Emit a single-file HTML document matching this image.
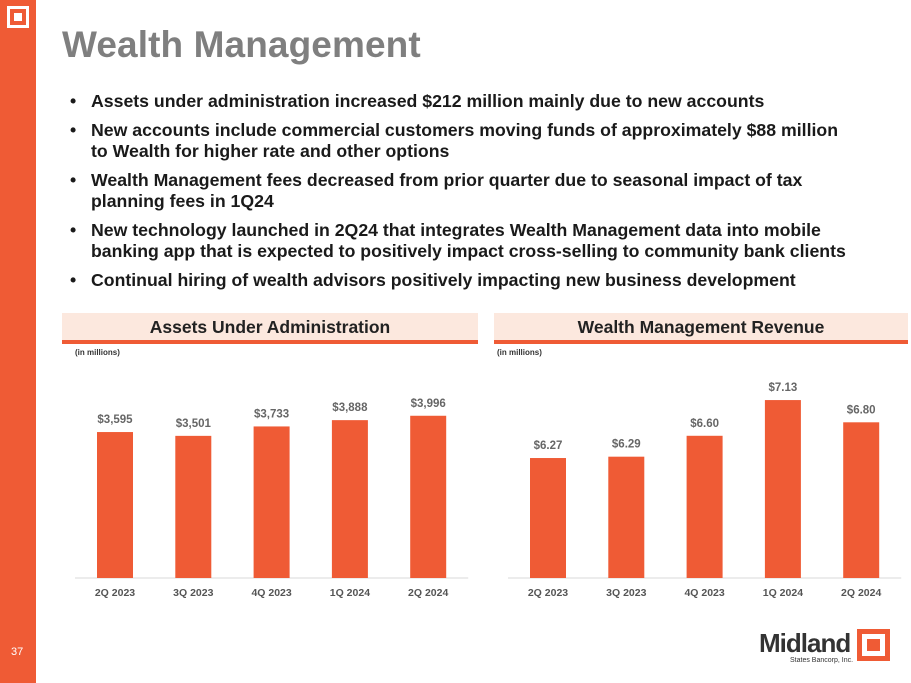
<!DOCTYPE html>
<html><head><meta charset="utf-8">
<style>
*{margin:0;padding:0;box-sizing:border-box}
body{width:911px;height:683px;background:#fff;position:relative;overflow:hidden;font-family:"Liberation Sans",sans-serif}
.side{position:absolute;left:0;top:0;width:36px;height:683px;background:#ef5b35}
.sq{position:absolute;left:7px;top:6px;width:22px;height:22px;border:3px solid #fff}
.sq i{position:absolute;left:4px;top:4px;width:8px;height:8px;background:#fff}
h1{position:absolute;left:62px;top:24px;font-size:37px;font-weight:bold;color:#7f7f7f;letter-spacing:0.1px}
ul{position:absolute;left:70px;top:91px;list-style:none;width:840px}
li{position:relative;padding-left:21px;font-size:17.7px;font-weight:bold;color:#1a1a1a;line-height:21px;margin-bottom:8px;white-space:nowrap}
li:before{content:"•";position:absolute;left:0;top:0}
.hdr{position:absolute;top:313px;height:31px;background:#fce8de;border-bottom:4px solid #ef5b35;text-align:center;font-size:17.5px;font-weight:bold;color:#222;line-height:28px}
.unit{position:absolute;top:348px;font-size:8px;font-weight:bold;color:#333}
.pg{position:absolute;left:11px;top:646px;color:#fff;font-size:11px}
</style></head><body>
<div class="side"><div class="sq"><i></i></div>
<div class="pg">37</div></div>
<h1>Wealth Management</h1>
<ul>
<li>Assets under administration increased $212 million mainly due to new accounts</li>
<li>New accounts include commercial customers moving funds of approximately $88 million<br>to Wealth for higher rate and other options</li>
<li>Wealth Management fees decreased from prior quarter due to seasonal impact of tax<br>planning fees in 1Q24</li>
<li>New technology launched in 2Q24 that integrates Wealth Management data into mobile<br>banking app that is expected to positively impact cross-selling to community bank clients</li>
<li>Continual hiring of wealth advisors positively impacting new business development</li>
</ul>
<div class="hdr" style="left:62px;width:416px">Assets Under Administration</div>
<div class="hdr" style="left:494px;width:414px">Wealth Management Revenue</div>
<div class="unit" style="left:75px">(in millions)</div>
<div class="unit" style="left:497px">(in millions)</div>
<svg id="charts" width="911" height="683" style="position:absolute;left:0;top:0"></svg>
<div style="position:absolute;left:759px;top:628px;font-size:26px;font-weight:bold;color:#333;letter-spacing:-1px">Midland</div>
<div style="position:absolute;left:790px;top:657px;font-size:7px;color:#333">States Bancorp, Inc.</div>
<div style="position:absolute;left:857px;top:629px;width:33px;height:32px;background:#ef5b35"><div style="position:absolute;left:5px;top:5px;width:23px;height:22px;background:#fff"></div><div style="position:absolute;left:10px;top:10px;width:13px;height:12px;background:#ef5b35"></div></div>
<script>
const categories=["2Q 2023","3Q 2023","4Q 2023","1Q 2024","2Q 2024"];
const auaValues=[3595,3501,3733,3888,3996];
const auaLabels=["$3,595","$3,501","$3,733","$3,888","$3,996"];
const revValues=[6.27,6.29,6.60,7.13,6.80];
const revLabels=["$6.27","$6.29","$6.60","$7.13","$6.80"];
const svg=document.getElementById('charts');
const NS="http://www.w3.org/2000/svg";
function draw(x0,vals,labels,min,scale,prefix){
  const base=578, step=78.3, bw=36;
  const ax=document.createElementNS(NS,'line');
  ax.setAttribute('x1',x0-22);ax.setAttribute('x2',x0+4*step+bw+22);ax.setAttribute('y1',base);ax.setAttribute('y2',base);
  ax.setAttribute('stroke','#d9d9d9');
  
  
  svg.appendChild(ax);
  vals.forEach((v,i)=>{
    const h=(v-min)*scale, x=x0+i*step;
    const r=document.createElementNS(NS,'rect');
    r.setAttribute('x',x);r.setAttribute('y',base-h);r.setAttribute('width',bw);r.setAttribute('height',h);r.setAttribute('fill','#ef5b35');
    
    
    svg.appendChild(r);
    const t=document.createElementNS(NS,'text');
    t.setAttribute('x',x+bw/2);t.setAttribute('y',base-h-9);t.setAttribute('text-anchor','middle');
    t.setAttribute('font-size','11.5');t.setAttribute('font-weight','bold');t.setAttribute('fill','#666');t.setAttribute('font-family','Liberation Sans, sans-serif');
    t.textContent=labels[i];
    
    
    svg.appendChild(t);
    const c=document.createElementNS(NS,'text');
    c.setAttribute('x',x+bw/2);c.setAttribute('y',base+18);c.setAttribute('text-anchor','middle');
    c.setAttribute('font-size','10.5');c.setAttribute('font-weight','bold');c.setAttribute('fill','#555');c.setAttribute('font-family','Liberation Sans, sans-serif');
    c.textContent=categories[i];
    
    
    svg.appendChild(c);
  });
}
draw(97,auaValues,auaLabels,0,0.0406,'aua');
draw(530,revValues,revLabels,4.49,67.4,'revenue');
</script>
</body></html>
